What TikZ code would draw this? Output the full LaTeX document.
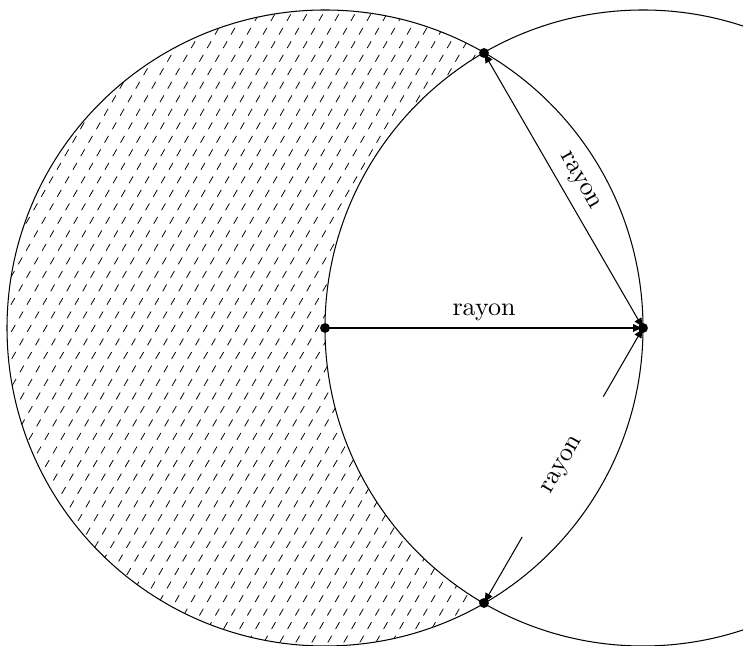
\documentclass[tikz,border=0pt]{standalone}
\usetikzlibrary{arrows.meta,calc}
\begin{document}
\begin{tikzpicture}[x=0.3846pt,y=0.3846pt,
  circ/.style={line width=0.4pt},
  hatch/.style={dashed,line width=0.3pt},
  dotpt/.style={fill=black},
  arr/.style={line width=0.4pt,-{Latex[length=3.8pt,width=3.2pt]}},
  arrs/.style={line width=0.4pt,{Latex[length=3.8pt,width=3.2pt]}-{Latex[length=3.8pt,width=3.2pt]}}]
\useasboundingbox (0,0) rectangle (743,646);
\clip (0,0) rectangle (743,646);
\coordinate (O1) at (325,318);
\coordinate (O2) at (643,318);
\coordinate (T) at (484,593);
\coordinate (B) at (484,43);
% hatching of the crescent
\begin{scope}
  \clip (O1) circle (318);
  \foreach \i in {-26,...,46} {
    \draw[hatch] (\i*16,-10) -- ++(379,656);
  }
\end{scope}
\fill[white] (O2) circle (318);
% circles
\draw[circ] (O1) circle (318);
\draw[circ] (O2) circle (318);
% radii
\draw[arr] (O1) -- node[above,yshift=-0.8pt] {rayon} (O2);
\draw[arrs] (O2) -- node[sloped,above] {rayon} (T);
\coordinate (G1) at ($(B)!0.24!(O2)$);
\coordinate (G2) at ($(B)!0.75!(O2)$);
\draw[arr] (G1) -- (B);
\draw[arr] (G2) -- (O2);
\node[rotate=60] (L3) at ($(B)!0.5!(O2)$) {rayon};
% points
\fill[dotpt] (O1) circle (1.9pt);
\fill[dotpt] (O2) circle (1.9pt);
\fill[dotpt] (T) circle (1.9pt);
\fill[dotpt] (B) circle (1.9pt);
\end{tikzpicture}
\end{document}
